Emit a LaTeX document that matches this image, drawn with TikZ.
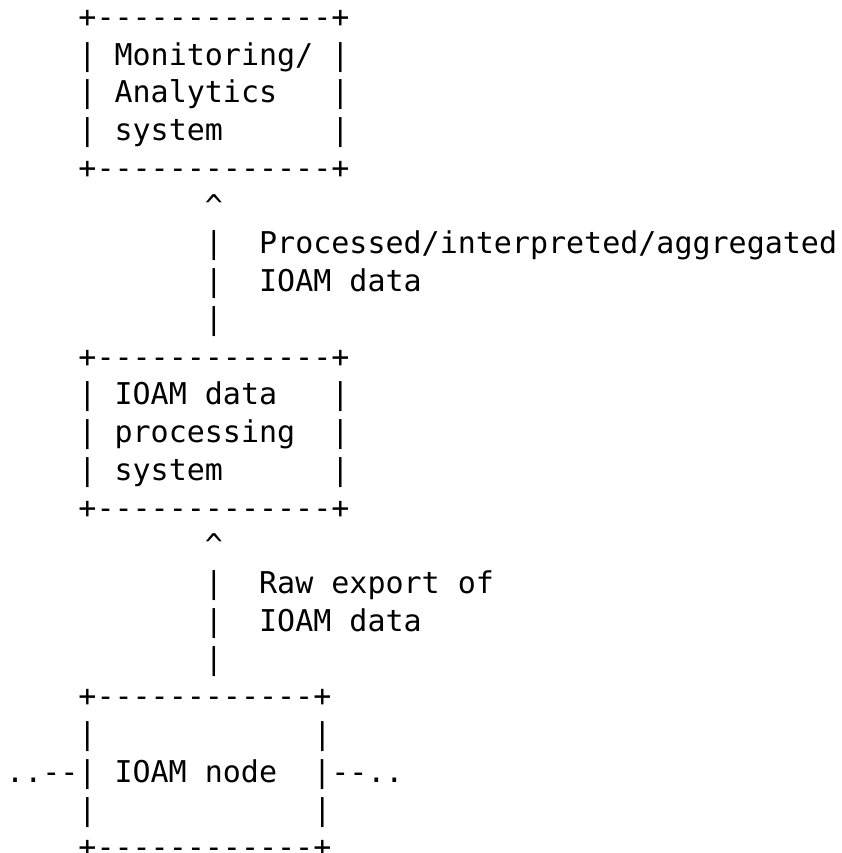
\documentclass[tikz,border=0pt]{standalone}
\usepackage{fontspec}
\setmonofont{DejaVu Sans Mono}

\begin{document}
\begin{tikzpicture}[x=18.07pt, y=-37.74pt,
    ascii/.style={anchor=base west, inner sep=0pt, outer sep=0pt, font=\ttfamily\fontsize{30}{30}\selectfont}]
    \useasboundingbox (-6.2pt,27.5pt) rectangle (835.8pt,-825.5pt);
    % monitoring / analytics box
    \node[ascii] (montop) at (4,0) {+-------------+};
    \node[ascii] (monrowa) at (4,1) {|~Monitoring/~|};
    \node[ascii] (monrowb) at (4,2) {|~Analytics~~~|};
    \node[ascii] (monrowc) at (4,3) {|~system~~~~~~|};
    \node[ascii] (monbot) at (4,4) {+-------------+};
    % upper arrow
    \node[ascii] (uphead) at (11,5) {\textasciicircum};
    \node[ascii] (uplinea) at (11,6) {|~~Processed/interpreted/aggregated};
    \node[ascii] (uplineb) at (11,7) {|~~IOAM data};
    \node[ascii] (uplinec) at (11,8) {|};
    % processing box
    \node[ascii] (proctop) at (4,9) {+-------------+};
    \node[ascii] (procrowa) at (4,10) {|~IOAM data~~~|};
    \node[ascii] (procrowb) at (4,11) {|~processing~~|};
    \node[ascii] (procrowc) at (4,12) {|~system~~~~~~|};
    \node[ascii] (procbot) at (4,13) {+-------------+};
    % lower arrow
    \node[ascii] (lowhead) at (11,14) {\textasciicircum};
    \node[ascii] (lowlinea) at (11,15) {|~~Raw export of};
    \node[ascii] (lowlineb) at (11,16) {|~~IOAM data};
    \node[ascii] (lowlinec) at (11,17) {|};
    % IOAM node box
    \node[ascii] (nodetop) at (4,18) {+------------+};
    \node[ascii] (noderowa) at (4,19) {|~~~~~~~~~~~~|};
    \node[ascii] (noderowb) at (0,20) {..--|~IOAM node~~|--..};
    \node[ascii] (noderowc) at (4,21) {|~~~~~~~~~~~~|};
    \node[ascii] (nodebot) at (4,22) {+------------+};
\end{tikzpicture}
\end{document}
